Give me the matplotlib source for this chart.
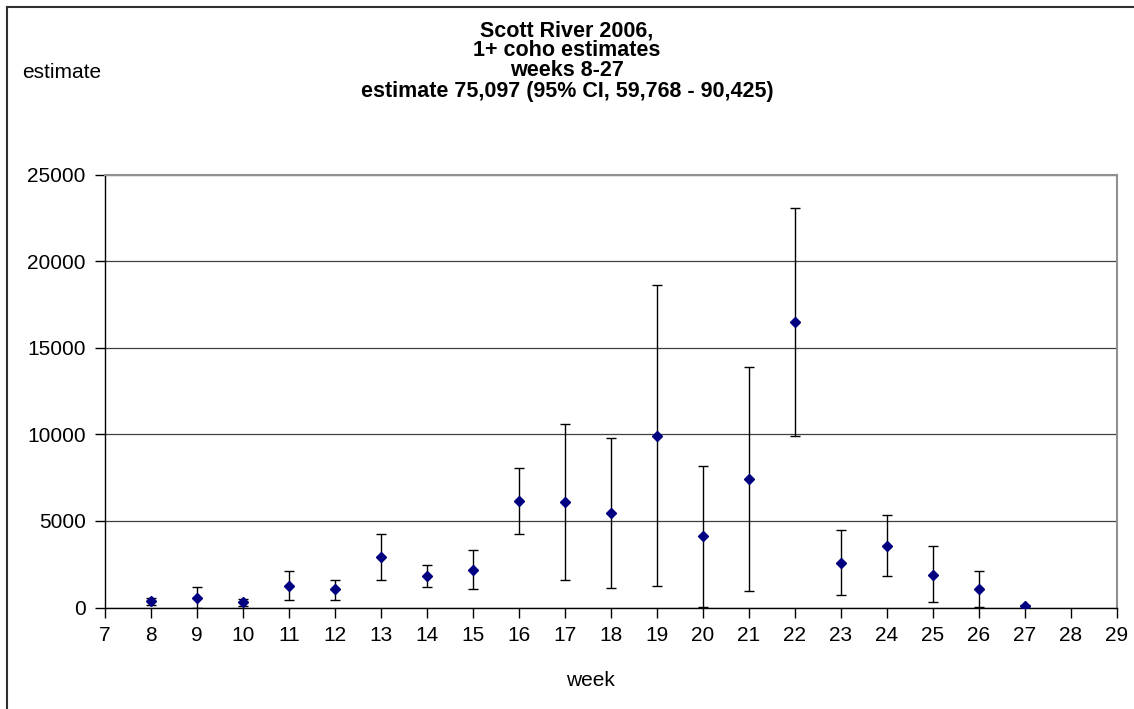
import matplotlib
matplotlib.use("Agg")
import matplotlib.pyplot as plt
from matplotlib.lines import Line2D

plt.rcParams["font.family"] = ["Liberation Sans", "DejaVu Sans"]

# weekly 1+ coho estimates with 95% CI bounds
weeks = [8, 9, 10, 11, 12, 13, 14, 15, 16, 17, 18, 19, 20, 21, 22, 23, 24, 25, 26, 27]
estimate = [370, 570, 300, 1260, 1070, 2940, 1820, 2170, 6170, 6110, 5480, 9930,
            4150, 7430, 16490, 2580, 3550, 1900, 1050, 90]
ci_low = [160, 0, 90, 450, 450, 1610, 1190, 1070, 4250, 1610, 1130, 1260,
          50, 970, 9930, 720, 1800, 300, 30, 60]
ci_high = [570, 1200, 510, 2090, 1610, 4250, 2440, 3340, 8050, 10600, 9780, 18640,
           8200, 13920, 23050, 4450, 5350, 3550, 2090, 120]

title_lines = ["Scott River 2006,", "1+ coho estimates", "weeks 8-27",
               "estimate 75,097 (95% CI, 59,768 - 90,425)"]

W, H = 1134, 709
fig = plt.figure(figsize=(W / 100, H / 100), dpi=100)
ax = fig.add_axes([105 / W, (H - 607.5) / H, (1117 - 105) / W, (607.5 - 174.7) / H])

yerr = [[e - lo for e, lo in zip(estimate, ci_low)],
        [hi - e for e, hi in zip(estimate, ci_high)]]
ax.errorbar(weeks, estimate, yerr=yerr, fmt="D", color="#000080", markersize=5,
            ecolor="black", elinewidth=1, capsize=3.5, capthick=1, zorder=3)

ax.set_xlim(7, 29)
ax.set_ylim(0, 25000)
ax.set_xticks(range(7, 30))
ax.set_yticks(range(0, 25001, 5000))
ax.yaxis.grid(True, color="#404040", linewidth=0.9)
ax.set_axisbelow(True)

ax.tick_params(axis="both", direction="out", length=7, width=1, color="black",
               labelsize=15, pad=6)
ax.tick_params(axis="y", pad=7)

for side in ("left", "bottom"):
    ax.spines[side].set_color("black")
    ax.spines[side].set_linewidth(1)
for side in ("top", "right"):
    ax.spines[side].set_color("#909090")
    ax.spines[side].set_linewidth(1.5)

# four-line title, one line every 20 px
for i, line in enumerate(title_lines):
    fig.text(567 / W, 1 - (31 + 20 * i) / H, line, ha="center", va="center",
             fontsize=15.5, fontweight="bold")
fig.text(22 / W, 1 - 72 / H, "estimate", ha="left", va="center", fontsize=15)
fig.text(590 / W, 1 - 680 / H, "week", ha="center", va="center", fontsize=15)

# chart frame
fig.add_artist(Line2D([7 / W, 1], [1 - 7 / H, 1 - 7 / H], color="#303030", linewidth=1.5))
fig.add_artist(Line2D([7 / W, 7 / W], [0, 1 - 7 / H], color="#303030", linewidth=1.5))

fig.savefig("out.png", dpi=100)
